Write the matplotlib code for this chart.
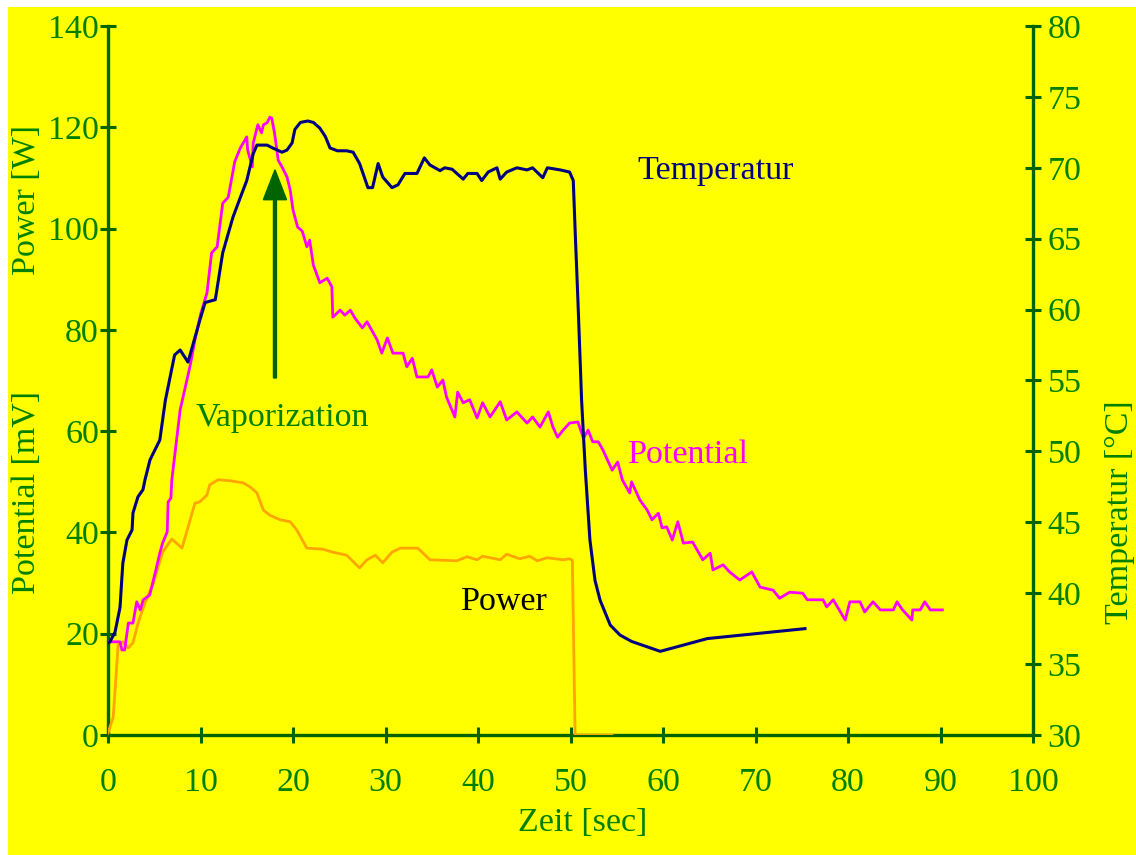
import matplotlib
matplotlib.use("Agg")
import matplotlib.pyplot as plt
from matplotlib.patches import Rectangle

# ---------------- data ----------------
temp_time = [0.0, 0.2, 0.76, 1.3, 1.6, 2.05, 2.6, 2.7, 3.24, 3.78, 4.0, 4.54, 5.6, 6.2, 7.2, 7.8, 8.65,
             9.95, 10.5, 11.6, 12.4, 13.5, 14.3, 15.0, 15.7, 16.1, 17.2, 17.8, 18.8, 19.35, 19.9, 20.2,
             20.8, 21.6, 22.2, 22.9, 23.5, 24.0, 24.8, 25.8, 26.5, 27.2, 28.1, 28.6, 29.2, 29.7, 30.7,
             31.35, 32.1, 33.4, 34.2, 34.8, 35.9, 36.4, 37.2, 38.4, 38.9, 39.9, 40.4, 41.1, 42.05, 42.4,
             43.1, 44.2, 45.3, 45.9, 47.0, 47.5, 48.9, 49.9, 50.3, 50.5, 50.8, 51.2, 51.6, 52.1, 52.65,
             53.2, 54.3, 55.35, 56.6, 59.7, 64.8, 75.35]
temp_val = [36.5, 36.56, 37.26, 39.0, 42.1, 43.75, 44.46, 45.66, 46.8, 47.3, 48.0, 49.4, 50.8, 53.6, 56.8,
            57.15, 56.3, 59.3, 60.5, 60.7, 64.0, 66.5, 67.9, 69.1, 71.0, 71.6, 71.6, 71.4, 71.1, 71.25,
            71.75, 72.7, 73.2, 73.3, 73.2, 72.8, 72.2, 71.4, 71.2, 71.2, 71.1, 70.3, 68.6, 68.6, 70.3,
            69.35, 68.6, 68.8, 69.6, 69.6, 70.7, 70.2, 69.8, 70.0, 69.9, 69.2, 69.6, 69.6, 69.1, 69.7,
            70.0, 69.2, 69.7, 70.0, 69.85, 70.0, 69.3, 70.0, 69.85, 69.7, 69.1, 65.6, 60.7, 53.6, 48.7,
            43.75, 40.9, 39.5, 37.75, 37.05, 36.6, 35.9, 36.8, 37.5]

power_time = [0.0, 0.56, 1.1, 1.6, 2.2, 2.7, 3.25, 4.0, 4.9, 5.9, 6.9, 8.0, 9.4, 9.9, 10.7, 11.0, 11.9,
              13.2, 14.6, 15.35, 16.1, 16.8, 17.5, 18.6, 19.7, 20.4, 21.5, 23.2, 24.3, 25.8, 27.2, 28.0,
              28.9, 29.7, 30.7, 31.6, 33.5, 34.8, 37.7, 38.8, 39.9, 40.5, 42.4, 43.1, 44.5, 45.6, 46.4,
              47.5, 49.2, 49.9, 50.2, 50.5, 54.5]
power_val = [0.4, 3.5, 17.8, 18.4, 17.2, 18.2, 22.1, 26.1, 30.0, 36.1, 38.7, 36.9, 45.8, 46.0, 47.4, 49.4,
             50.4, 50.2, 49.8, 49.0, 47.8, 44.4, 43.4, 42.5, 42.1, 40.5, 36.9, 36.7, 36.1, 35.5, 33.0,
             34.6, 35.5, 34.0, 36.1, 36.9, 36.9, 34.6, 34.4, 35.2, 34.6, 35.3, 34.6, 35.7, 34.8, 35.3,
             34.4, 35.0, 34.6, 34.8, 34.5, 0.0, 0.0]

pot_time = [0, 1.3, 1.5, 1.8, 2.2, 2.7, 3.1, 3.5, 3.8, 4.5, 5.1, 5.6, 5.9, 6.4, 6.5, 6.8, 6.9, 7.8, 8.9,
            9.4, 10.0, 10.7, 11.2, 11.8, 12.4, 13.0, 13.7, 14.3, 15.0, 15.1, 15.6, 15.7, 16.2, 16.6, 16.8,
            17.2, 17.5, 17.7, 18.0, 18.4, 18.8, 19.35, 19.7, 20.0, 20.5, 21.0, 21.5, 21.8, 22.2, 22.9,
            23.7, 24.2, 24.3, 25.1, 25.6, 26.2, 26.7, 27.5, 28.0, 29.1, 29.6, 30.2, 30.8, 31.9, 32.3,
            32.9, 33.4, 34.6, 35.0, 35.6, 36.2, 36.6, 37.5, 37.8, 38.4, 39.1, 39.9, 40.5, 41.3, 42.4,
            43.1, 44.2, 45.3, 45.9, 46.7, 47.6, 48.1, 48.6, 49.2, 49.9, 50.8, 51.4, 51.9, 52.4, 53.0,
            53.5, 54.5, 55.1, 55.6, 56.4, 56.6, 57.5, 58.3, 58.8, 59.5, 59.9, 60.4, 61.0, 61.6, 62.2,
            63.2, 63.7, 64.3, 65.1, 65.4, 66.5, 67.2, 68.3, 69.6, 70.5, 71.9, 72.6, 73.7, 75.1, 75.6,
            77.3, 77.7, 78.4, 79.7, 80.2, 81.3, 81.8, 82.7, 83.5, 84.9, 85.3, 85.9, 86.9, 87.0, 87.8,
            88.3, 88.9, 90.2]
pot_val = [18.4, 18.4, 16.8, 16.8, 22.1, 22.1, 26.3, 24.7, 26.7, 27.6, 32.0, 35.9, 37.9, 40.1, 46.0, 46.8,
           50.4, 64.2, 73.1, 78.0, 83.0, 87.3, 95.2, 96.4, 105.0, 106.2, 113.2, 115.9, 118.1, 115.5,
           112.2, 116.9, 120.5, 118.9, 120.5, 120.9, 122.0, 121.8, 118.9, 113.5, 112.2, 110.2, 107.6,
           103.7, 100.3, 99.5, 96.4, 97.7, 92.8, 89.3, 90.2, 88.5, 82.5, 83.9, 82.9, 83.9, 82.3, 80.4,
           81.6, 78.0, 75.4, 78.4, 75.4, 75.4, 72.7, 74.4, 70.7, 70.7, 72.1, 68.7, 70.1, 66.7, 62.8,
           67.7, 65.6, 66.2, 62.6, 65.6, 62.8, 65.8, 62.2, 63.8, 61.6, 62.8, 60.8, 63.8, 60.8, 58.8,
           60.2, 61.6, 61.8, 58.6, 60.2, 57.9, 57.9, 56.3, 52.3, 53.9, 50.4, 47.8, 50.0, 46.4, 44.4,
           42.5, 43.8, 40.9, 41.1, 38.5, 42.1, 37.9, 38.1, 36.5, 34.6, 35.9, 32.6, 33.6, 32.2, 30.6,
           32.2, 29.2, 28.6, 27.0, 28.2, 28.0, 26.7, 26.7, 25.3, 26.7, 22.7, 26.3, 26.3, 24.3, 26.3,
           24.7, 24.7, 26.3, 24.7, 22.7, 24.7, 24.7, 26.3, 24.7, 24.7]

x_ticks = [0, 10, 20, 30, 40, 50, 60, 70, 80, 90, 100]
left_ticks = [0, 20, 40, 60, 80, 100, 120, 140]
right_ticks = [30, 35, 40, 45, 50, 55, 60, 65, 70, 75, 80]

# ---------------- style ----------------
YELLOW = '#FFFF00'
SPINE = '#006400'
TXT = '#008000'
NAVY = '#000080'
MAGENTA = '#FF00FF'
ORANGE = '#FFA500'
FS = 24.5
plt.rcParams['font.family'] = ['Liberation Serif', 'DejaVu Serif']

fig = plt.figure(figsize=(11.36, 8.55), dpi=100)
fig.patch.set_facecolor('white')
fig.patches.append(Rectangle((8 / 1136, 0), 1 - 8 / 1136, 848 / 855, transform=fig.transFigure,
                             facecolor=YELLOW, edgecolor='none', zorder=-10))

ax = fig.add_axes([108 / 1136, 1 - 735 / 855, (1033 - 108) / 1136, (735 - 26) / 855])
ax.set_facecolor(YELLOW)
ax2 = ax.twinx()

ax.set_xlim(0, 100)
ax.set_ylim(0, 140)
ax2.set_ylim(30, 80)

for a in (ax, ax2):
    a.spines['top'].set_visible(False)
    for s in ('left', 'right', 'bottom'):
        a.spines[s].set_color(SPINE)
        a.spines[s].set_linewidth(2.4)
ax.spines['right'].set_visible(False)
ax2.spines['left'].set_visible(False)
ax2.spines['bottom'].set_visible(False)

ax.set_xticks(x_ticks)
ax.set_yticks(left_ticks)
ax2.set_yticks(right_ticks)
ax.tick_params(axis='both', direction='inout', length=11, width=2.2, color=SPINE,
               labelcolor=TXT, labelsize=FS, pad=1)
ax.tick_params(axis='x', pad=18)
ax2.tick_params(axis='y', direction='inout', length=11, width=2.2, color=SPINE,
                labelcolor=TXT, labelsize=FS, pad=5)

# lines
ax.plot(power_time, power_val, color=ORANGE, lw=2.0, zorder=3)
ax.plot(pot_time, pot_val, color=MAGENTA, lw=2.0, zorder=4)
ax2.plot(temp_time, temp_val, color=NAVY, lw=2.2, zorder=5)

# arrow
ax.arrow(18.05, 70.5, 0, 41.1, width=0.32, head_width=2.5, head_length=5.9,
         length_includes_head=True, color=SPINE, zorder=6)

# annotations
ax.text(18.8, 62.6, 'Vaporization', color=TXT, fontsize=FS, ha='center', va='center')
ax.text(65.7, 111.4, 'Temperatur', color=NAVY, fontsize=FS, ha='center', va='center')
ax.text(62.7, 55.3, 'Potential', color=MAGENTA, fontsize=FS, ha='center', va='center')
ax.text(42.9, 26.3, 'Power', color='black', fontsize=FS, ha='center', va='center')

# axis labels
fig.text(27 / 1136, 1 - 200 / 855, 'Power [W]', rotation=90, color=TXT, fontsize=FS,
         ha='center', va='center')
fig.text(27 / 1136, 1 - 492 / 855, 'Potential [mV]', rotation=90, color=TXT, fontsize=FS,
         ha='center', va='center')
fig.text(1120 / 1136, 1 - 512 / 855, 'Temperatur [°C]', rotation=90, color=TXT, fontsize=FS,
         ha='center', va='center')
fig.text(583 / 1136, 1 - 823 / 855, 'Zeit [sec]', color=TXT, fontsize=FS, ha='center', va='center')

fig.savefig('out.png', dpi=100, facecolor='white')
